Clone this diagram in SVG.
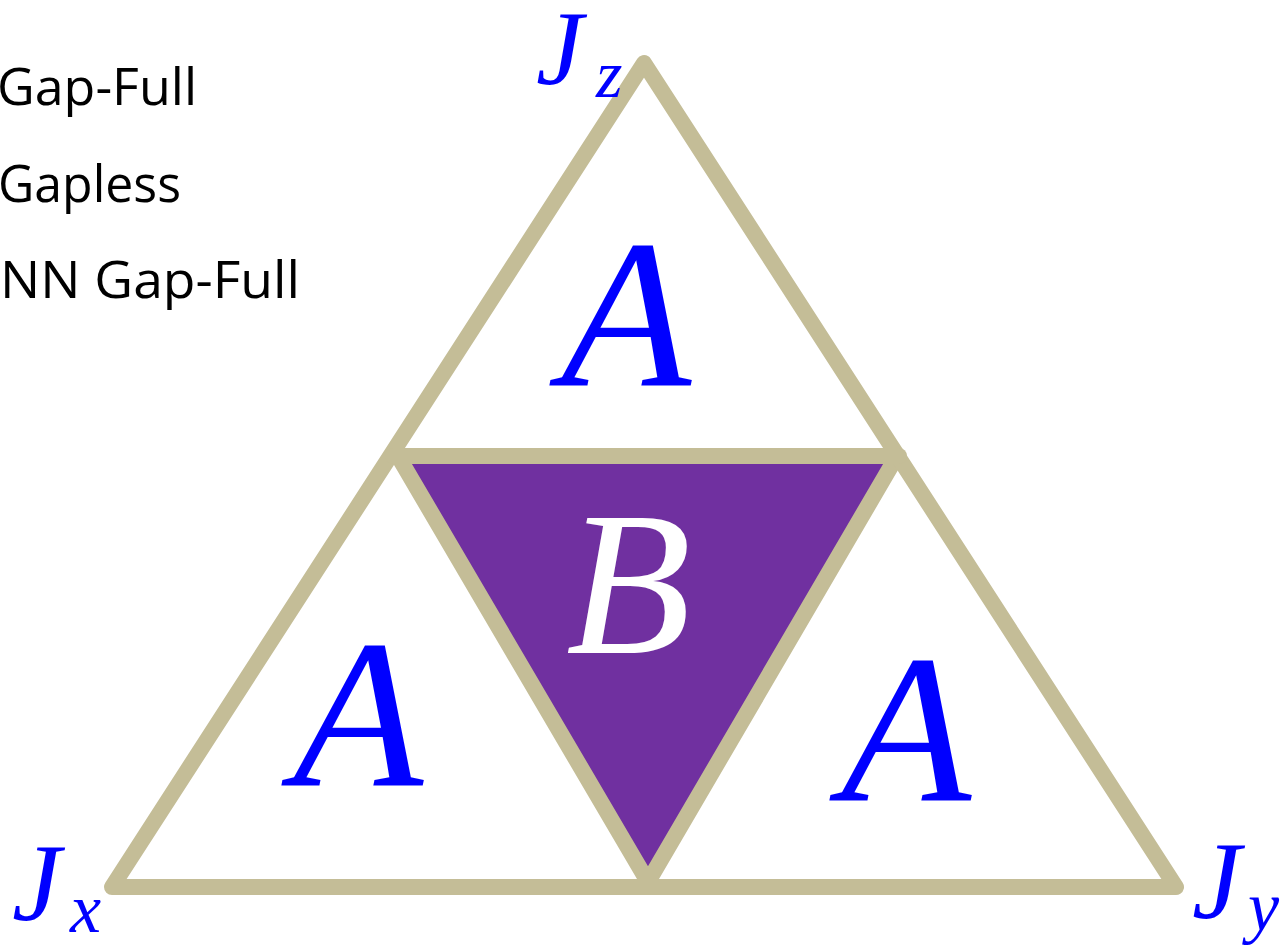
<svg xmlns="http://www.w3.org/2000/svg" width="1284" height="949" viewBox="0 0 1284 949">
<style>
.legend{font-family:"Open Sans","Liberation Sans",sans-serif;font-size:52px;fill:#000}
.math{font-family:"Liberation Serif","DejaVu Serif",serif;font-style:italic;fill:#0000FF}
.edge{fill:none;stroke:#C4BD97;stroke-width:16;stroke-linejoin:round;stroke-linecap:round}
</style>
<rect width="1284" height="949" fill="#fff"/>
<g id="legend">
<text class="legend" x="-3" y="105" textLength="200" lengthAdjust="spacingAndGlyphs">Gap-Full</text>
<text class="legend" x="-2" y="202" textLength="183" lengthAdjust="spacingAndGlyphs">Gapless</text>
<text class="legend" x="0" y="298" textLength="300" lengthAdjust="spacingAndGlyphs">NN Gap-Full</text>
</g>
<g id="region-B">
<polygon points="398,456 897,456 648,882" fill="#7030A0" stroke="#C4BD97" stroke-width="16" stroke-linejoin="round"/>
</g>
<g id="connectors">
<polygon class="edge" points="112,887 644,63 1176,887"/>
<line class="edge" x1="393" y1="456" x2="899" y2="456"/>
</g>
<g id="label-B"><text class="math" x="566" y="653" font-size="205" style="fill:#fff">B</text></g>
<g id="region-A-top"><text class="math" x="561" y="385" font-size="213">A</text></g>
<g id="region-A-left"><text class="math" x="293" y="785" font-size="213">A</text></g>
<g id="region-A-right"><text class="math" x="841" y="800" font-size="213">A</text></g>
<g id="vertex-Jz"><text class="math" x="536" y="84" font-size="106">J</text><text class="math" x="596" y="97" font-size="68">z</text></g>
<g id="vertex-Jx"><text class="math" x="12" y="920" font-size="110">J</text><text class="math" x="70" y="932" font-size="70">x</text></g>
<g id="vertex-Jy"><text class="math" x="1192" y="918" font-size="110">J</text><text class="math" x="1248" y="930" font-size="70">y</text></g>
</svg>
